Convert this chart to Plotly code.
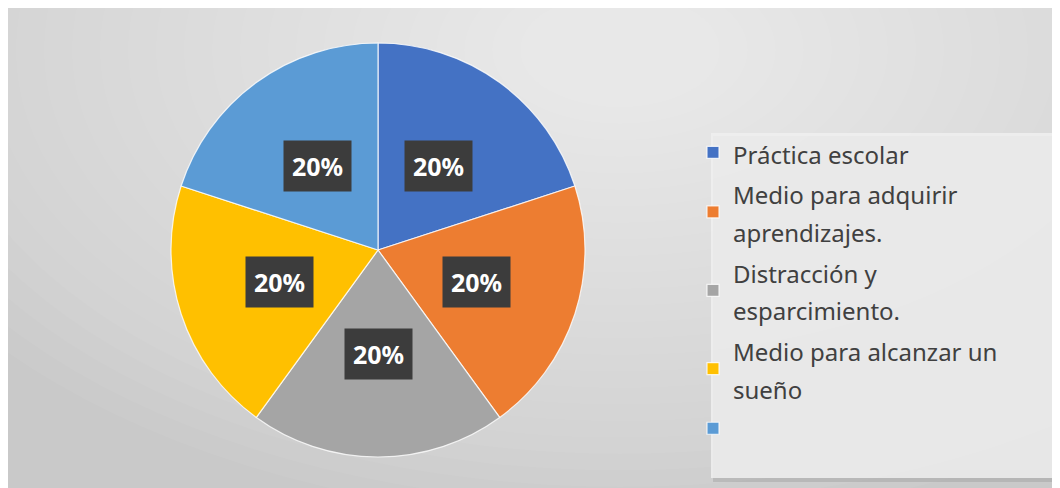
import math
import plotly.graph_objects as go

# ---- data ----
categorias = [
    "Práctica escolar",
    "Medio para adquirir<br>aprendizajes.",
    "Distracción y<br>esparcimiento.",
    "Medio para alcanzar un<br>sueño",
    " ",
]
valores = [20, 20, 20, 20, 20]
colores = ["#4472C4", "#ED7D31", "#A5A5A5", "#FFC000", "#5B9BD5"]

# ---- layout constants (screen px; the page body adds an 8px margin) ----
OFF = 8
W, H = 1060 - OFF, 488 - OFF
CX, CY, R = 378, 250, 207  # pie centre / radius in screen px
FONT = "Noto Sans"


def px_x(x):
    return (x - OFF) / W


def px_y(y):
    return 1 - (y - OFF) / H


labels_html = [
    "<br>".join(f'<span style="font-size:24px">{p}</span>' for p in c.split("<br>"))
    for c in categorias
]

fig = go.Figure()
fig.add_trace(
    go.Pie(
        labels=labels_html,
        values=valores,
        marker=dict(colors=colores, line=dict(color="rgba(255,255,255,0.8)", width=1.2)),
        sort=False,
        direction="clockwise",
        rotation=0,
        textinfo="none",
        hoverinfo="skip",
        domain=dict(
            x=[px_x(CX - R), px_x(CX + R)],
            y=[px_y(CY + R), px_y(CY - R)],
        ),
    )
)

# percentage labels placed at slice mid-angles computed from the values
total = sum(valores)
annotations = []
cum = 0
for v in valores:
    mid = (cum + v / 2) / total * 2 * math.pi
    cum += v
    lx = CX + 0.5 * R * math.sin(mid)
    ly = CY - 0.5 * R * math.cos(mid)
    annotations.append(
        dict(
            x=px_x(lx), y=px_y(ly), xref="paper", yref="paper",
            text=f"<b>{v / total:.0%}</b>", showarrow=False,
            font=dict(family=FONT, size=25, color="white"),
            bgcolor="#3c3c3c", borderpad=8,
            xanchor="center", yanchor="middle",
        )
    )

# background: grey area with a soft radial highlight
shapes = [
    dict(type="rect", xref="paper", yref="paper", layer="below",
         x0=0, x1=1, y0=0, y1=1,
         fillcolor="#c9c9c9", line=dict(width=0)),
]
N = 26
for k in range(N):
    rx = 800 - k * 28
    ry = 470 - k * 16.5
    shapes.append(
        dict(type="circle", xref="paper", yref="paper", layer="below",
             x0=px_x(620 - rx), x1=px_x(620 + rx),
             y0=px_y(50 + ry), y1=px_y(50 - ry),
             fillcolor="rgba(255,255,255,0.045)", line=dict(width=0))
    )
# legend panel with shadow
shapes.append(dict(type="rect", xref="paper", yref="paper", layer="below",
                   x0=px_x(713), x1=1, y0=px_y(482), y1=px_y(136),
                   fillcolor="rgba(160,160,160,0.45)", line=dict(width=0)))
shapes.append(dict(type="rect", xref="paper", yref="paper", layer="below",
                   x0=px_x(711), x1=1, y0=px_y(478), y1=px_y(133),
                   fillcolor="rgba(240,240,240,0.85)", line=dict(width=0)))

fig.update_layout(
    width=W, height=H,
    margin=dict(l=0, r=0, t=0, b=0),
    paper_bgcolor="white",
    plot_bgcolor="white",
    showlegend=True,
    legend=dict(
        x=px_x(693), y=px_y(127), xanchor="left", yanchor="top",
        font=dict(family=FONT, size=29, color="#404040"),
        bgcolor="rgba(0,0,0,0)",
    ),
    annotations=annotations,
    shapes=shapes,
)

fig.write_html("out.html")
